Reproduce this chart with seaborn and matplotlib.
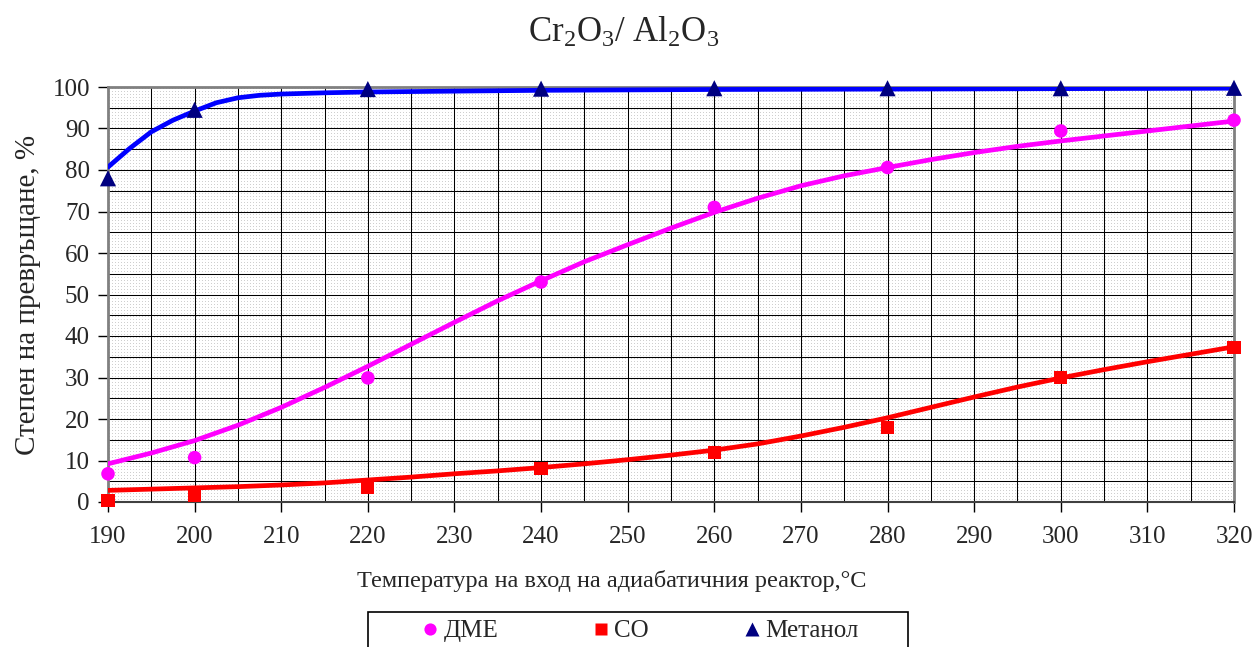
import matplotlib
matplotlib.use("Agg")
import matplotlib.pyplot as plt
from matplotlib.colors import ListedColormap
from matplotlib.patches import Rectangle
import numpy as np
import pandas as pd
import seaborn as sns

# Measured points (temperature, conversion %)
temps = [190, 200, 220, 240, 260, 280, 300, 320]
dme = [6.8, 10.7, 29.9, 53.0, 71.0, 80.6, 89.4, 92.0]
co = [0.3, 1.5, 3.5, 8.0, 12.0, 18.0, 30.0, 37.3]
methanol = [78.0, 94.5, 99.5, 99.6, 99.7, 99.7, 99.7, 99.8]

# Trend curves
curve_t = [190, 195, 200, 205, 210, 215, 220, 225, 230, 235, 240, 245, 250,
           255, 260, 265, 270, 275, 280, 285, 290, 295, 300, 305, 310, 315, 320]
dme_curve = [9.2, 11.8, 14.8, 18.5, 22.8, 27.6, 32.7, 38.0, 43.3, 48.5, 53.3,
             57.9, 62.0, 66.0, 69.8, 73.2, 76.2, 78.6, 80.6, 82.5, 84.2, 85.7,
             87.0, 88.2, 89.4, 90.6, 91.8]
co_curve = [2.8, 3.1, 3.4, 3.7, 4.1, 4.6, 5.3, 6.0, 6.8, 7.5, 8.3, 9.2, 10.2,
            11.3, 12.5, 14.0, 15.9, 18.0, 20.3, 22.8, 25.3, 27.7, 29.9, 31.9,
            33.8, 35.6, 37.4]
meth_t = [190, 192.5, 195, 197.5, 200, 202.5, 205, 207.5, 210, 215, 220, 230,
          240, 260, 280, 300, 320]
meth_curve = [80.7, 85.2, 89.2, 92.0, 94.2, 96.2, 97.4, 98.0, 98.3, 98.6, 98.8,
              99.0, 99.2, 99.4, 99.5, 99.6, 99.7]

names = ["ДМЕ", "СО", "Метанол"]
colors = {"ДМЕ": "#FF00FF", "СО": "#FF0000", "Метанол": "#000080"}
line_colors = {"ДМЕ": "#FF00FF", "СО": "#FF0000", "Метанол": "#0000FF"}
markers = {"ДМЕ": "o", "СО": "s", "Метанол": "^"}
marker_sizes = {"ДМЕ": 95, "СО": 90, "Метанол": 135}

points = pd.DataFrame({
    "t": temps * 3,
    "val": dme + co + methanol,
    "series": [n for n in names for _ in temps],
})
curves = pd.DataFrame({
    "t": curve_t + curve_t + meth_t,
    "val": dme_curve + co_curve + meth_curve,
    "series": ["ДМЕ"] * len(curve_t) + ["СО"] * len(curve_t) + ["Метанол"] * len(meth_t),
})

sns.set_theme(style="white")
plt.rcParams["font.family"] = ["Liberation Serif", "DejaVu Serif"]
plt.rcParams["mathtext.fontset"] = "custom"
plt.rcParams["mathtext.rm"] = "Liberation Serif"
plt.rcParams["mathtext.it"] = "Liberation Serif:italic"

fig = plt.figure(figsize=(12.55, 6.47), dpi=100)
ax = fig.add_axes([108 / 1255, 1 - 502 / 647, 1126 / 1255, 415 / 647])

# dotted background pattern
pattern = np.zeros((415, 1126))
pattern[1::3, 1::3] = 1
ax.imshow(pattern, cmap=ListedColormap(["white", "#cfcfcf"]),
          extent=(190, 320, 0, 100), aspect="auto",
          interpolation="nearest", zorder=0)

sns.lineplot(data=curves, x="t", y="val", hue="series", palette=line_colors,
             hue_order=names, lw=3.4, legend=False, ax=ax, zorder=3,
             sort=True, estimator=None)
sns.scatterplot(data=points, x="t", y="val", hue="series", style="series",
                size="series", sizes=marker_sizes, size_order=names,
                palette=colors, markers=markers, hue_order=names,
                style_order=names, edgecolor="none", ax=ax,
                zorder=4, clip_on=False)

ax.set_xlim(190, 320)
ax.set_ylim(0, 100)
ax.set_xticks(range(190, 321, 10))
ax.set_xticks(range(195, 320, 10), minor=True)
ax.set_yticks(range(0, 101, 10))
ax.set_yticks(range(5, 100, 10), minor=True)
ax.grid(which="both", color="black", lw=0.75)
ax.tick_params(axis="x", which="major", direction="out", length=7, width=1,
               color="black", labelsize=18, pad=10, bottom=True)
ax.tick_params(axis="y", which="major", direction="out", length=7, width=1,
               color="black", labelsize=18, pad=6, left=True)
ax.tick_params(which="minor", length=0)
for side in ["left", "right", "top"]:
    ax.spines[side].set_color("#808080")
    ax.spines[side].set_linewidth(2)
ax.spines["bottom"].set_color("#404040")
ax.spines["bottom"].set_linewidth(1.5)

ax.set_xlabel("Температура на вход на адиабатичния реактор,°С", fontsize=17.5,
              labelpad=10)
ax.xaxis.set_label_coords((612 - 108) / 1126, -0.165)
ax.set_ylabel("Степен на превръщане, %", fontsize=21, labelpad=8)
fig.text(0.497, 1 - 33 / 647, r"Cr$_2$O$_3$/ Al$_2$O$_3$", fontsize=25,
         ha="center", va="center")

handles, labels = ax.get_legend_handles_labels()
ax.get_legend().remove()
fig.patches.append(Rectangle((368 / 1255, -0.05), 540 / 1255,
                             0.05 + (647 - 612) / 647, transform=fig.transFigure,
                             fill=False, edgecolor="black", lw=1.2))
leg = fig.legend(handles, labels, loc="center",
                 bbox_to_anchor=(638 / 1255, 1 - 631 / 647), ncol=3,
                 fontsize=18, frameon=False, handletextpad=0.05,
                 columnspacing=3.6, borderpad=0, borderaxespad=0,
                 handlelength=1.0, markerscale=0.9)

plt.savefig("out.png", dpi=100)
